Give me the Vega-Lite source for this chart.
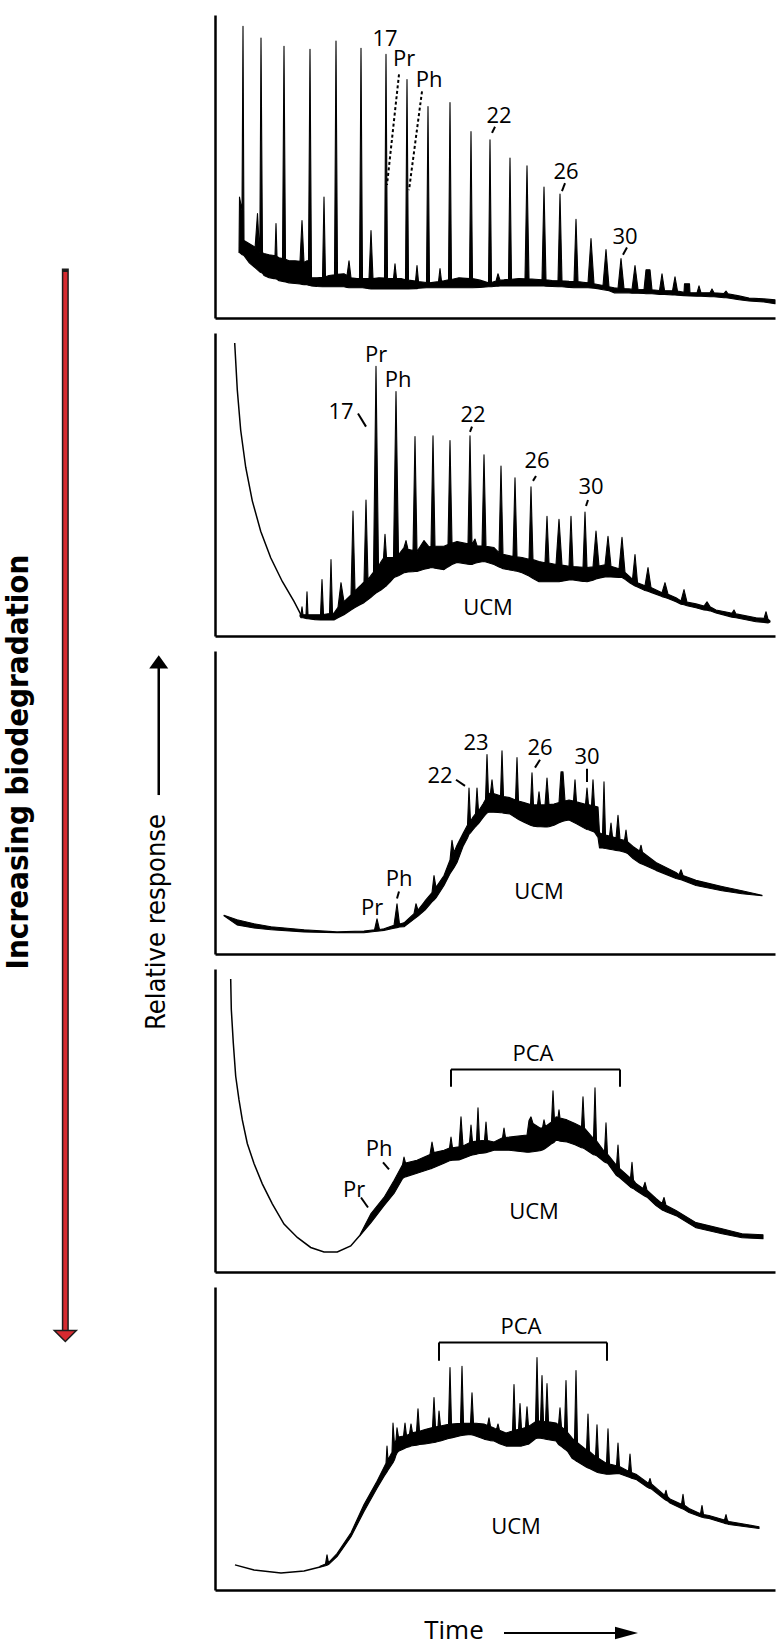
{
"$schema":"https://vega.github.io/schema/vega-lite/v6.json",
"padding":{"left":0,"top":15,"right":0,"bottom":0},
"background":"white",
"config":{"view":{"stroke":null},"axis":{"domainColor":"black","domainWidth":2.5,"ticks":false,"labels":false,"grid":false,"minExtent":0}},
"datasets":{
"redArrowShaft":[{"x":33.5,"y":83.66,"y2":16.4}],
"redArrowHead":[{"x":33.5,"y":16.02}],
"blackArrowShaft":[{"x":81.4,"y":50.41,"y2":58.49}],
"blackArrowHead":[{"x":81.4,"y":58.87}],
"biodegLabel":[{"x":9.8,"y":52.51,"text":"Increasing biodegradation"}],
"responseLabel":[{"x":80.4,"y":42.34,"text":"Relative response"}],
"trace1":[{"time":2.4,"resp":21.6,"lo":21.6},{"time":2.45,"resp":39.9,"lo":21.6},{"time":2.7,"resp":35.5,"lo":20.9},{"time":2.8,"resp":96.3,"lo":20.8},{"time":2.9,"resp":25.6,"lo":20.6},{"time":3.4,"resp":24.6,"lo":18.3},{"time":3.9,"resp":23.6,"lo":16.9},{"time":4.0,"resp":22.8,"lo":16.6},{"time":4.25,"resp":34.5,"lo":15.9},{"time":4.45,"resp":21.8,"lo":15.3},{"time":4.48,"resp":21.6,"lo":15.2},{"time":4.6,"resp":92.4,"lo":15.0},{"time":4.75,"resp":21.5,"lo":14.8},{"time":4.9,"resp":21.3,"lo":14.0},{"time":5.4,"resp":20.9,"lo":13.3},{"time":5.9,"resp":20.6,"lo":13.0},{"time":6.0,"resp":20.5,"lo":13.0},{"time":6.1,"resp":31.2,"lo":12.9},{"time":6.2,"resp":20.3,"lo":12.8},{"time":6.4,"resp":19.9,"lo":12.3},{"time":6.75,"resp":19.6,"lo":12.1},{"time":6.9,"resp":89.7,"lo":12.0},{"time":7.05,"resp":19.4,"lo":11.9},{"time":7.4,"resp":18.9,"lo":11.6},{"time":8.0,"resp":18.9,"lo":11.4},{"time":8.5,"resp":18.7,"lo":11.2},{"time":8.7,"resp":32.2,"lo":11.1},{"time":8.9,"resp":18.3,"lo":11.0},{"time":9.2,"resp":18.9,"lo":11.0},{"time":9.35,"resp":18.9,"lo":10.8},{"time":9.5,"resp":88.7,"lo":10.7},{"time":9.65,"resp":13.3,"lo":10.6},{"time":10.2,"resp":13.3,"lo":10.4},{"time":10.75,"resp":13.4,"lo":10.3},{"time":10.9,"resp":39.9,"lo":10.3},{"time":11.05,"resp":13.6,"lo":10.3},{"time":11.4,"resp":14.0,"lo":10.3},{"time":11.95,"resp":14.3,"lo":10.3},{"time":12.1,"resp":91.4,"lo":10.3},{"time":12.25,"resp":14.4,"lo":10.3},{"time":12.9,"resp":14.6,"lo":10.3},{"time":13.2,"resp":14.0,"lo":10.1},{"time":13.4,"resp":18.9,"lo":10.0},{"time":13.6,"resp":13.3,"lo":10.0},{"time":14.2,"resp":13.0,"lo":10.0},{"time":14.45,"resp":13.0,"lo":10.0},{"time":14.6,"resp":89.0,"lo":10.0},{"time":14.75,"resp":13.0,"lo":10.0},{"time":15.4,"resp":13.0,"lo":9.7},{"time":15.6,"resp":28.9,"lo":9.6},{"time":15.8,"resp":13.0,"lo":9.6},{"time":16.4,"resp":13.3,"lo":9.6},{"time":16.95,"resp":13.2,"lo":9.6},{"time":17.1,"resp":87.0,"lo":9.6},{"time":17.25,"resp":13.1,"lo":9.6},{"time":17.6,"resp":13.0,"lo":9.6},{"time":17.85,"resp":13.0,"lo":9.6},{"time":18.0,"resp":17.9,"lo":9.6},{"time":18.15,"resp":13.0,"lo":9.6},{"time":18.6,"resp":13.0,"lo":9.6},{"time":19.05,"resp":12.6,"lo":9.6},{"time":19.2,"resp":78.7,"lo":9.6},{"time":19.35,"resp":12.5,"lo":9.6},{"time":20.05,"resp":12.2,"lo":9.7},{"time":20.2,"resp":17.3,"lo":9.7},{"time":20.35,"resp":12.0,"lo":9.8},{"time":21.15,"resp":11.7,"lo":10.0},{"time":21.3,"resp":69.8,"lo":10.0},{"time":21.45,"resp":11.6,"lo":10.0},{"time":22.35,"resp":12.0,"lo":10.0},{"time":22.5,"resp":16.3,"lo":10.0},{"time":22.65,"resp":12.2,"lo":10.0},{"time":22.9,"resp":12.3,"lo":10.0},{"time":23.35,"resp":12.6,"lo":10.0},{"time":23.5,"resp":71.1,"lo":10.0},{"time":23.65,"resp":12.7,"lo":10.0},{"time":24.4,"resp":13.3,"lo":10.0},{"time":25.45,"resp":13.0,"lo":10.0},{"time":25.6,"resp":61.5,"lo":10.0},{"time":25.75,"resp":13.0,"lo":10.0},{"time":26.5,"resp":12.5,"lo":10.1},{"time":27.35,"resp":11.6,"lo":10.3},{"time":27.5,"resp":58.8,"lo":10.3},{"time":27.65,"resp":11.7,"lo":10.3},{"time":28.1,"resp":12.2,"lo":10.5},{"time":28.3,"resp":14.6,"lo":10.5},{"time":28.5,"resp":12.5,"lo":10.6},{"time":28.9,"resp":12.6,"lo":10.6},{"time":29.35,"resp":12.8,"lo":10.6},{"time":29.5,"resp":52.8,"lo":10.6},{"time":29.65,"resp":12.8,"lo":10.6},{"time":30.4,"resp":13.0,"lo":10.6},{"time":31.0,"resp":12.9,"lo":10.6},{"time":31.2,"resp":50.2,"lo":10.6},{"time":31.4,"resp":12.9,"lo":10.6},{"time":32.0,"resp":12.8,"lo":10.6},{"time":32.7,"resp":12.6,"lo":10.6},{"time":32.9,"resp":43.2,"lo":10.6},{"time":33.1,"resp":12.6,"lo":10.5},{"time":33.7,"resp":12.4,"lo":10.4},{"time":34.3,"resp":12.3,"lo":10.3},{"time":34.5,"resp":40.9,"lo":10.3},{"time":34.7,"resp":12.3,"lo":10.3},{"time":35.4,"resp":12.1,"lo":10.1},{"time":35.9,"resp":12.0,"lo":10.0},{"time":36.1,"resp":32.6,"lo":10.0},{"time":36.3,"resp":12.0,"lo":10.0},{"time":36.8,"resp":11.8,"lo":10.0},{"time":37.3,"resp":11.6,"lo":10.0},{"time":37.6,"resp":26.2,"lo":9.9},{"time":37.9,"resp":11.3,"lo":9.8},{"time":38.4,"resp":11.0,"lo":9.6},{"time":38.8,"resp":10.7,"lo":9.3},{"time":39.1,"resp":22.6,"lo":9.2},{"time":39.4,"resp":10.3,"lo":9.0},{"time":39.9,"resp":10.0,"lo":8.3},{"time":40.3,"resp":9.8,"lo":8.3},{"time":40.6,"resp":19.6,"lo":8.3},{"time":40.9,"resp":9.7,"lo":8.3},{"time":41.4,"resp":9.6,"lo":8.3},{"time":41.7,"resp":9.5,"lo":8.2},{"time":42.0,"resp":17.3,"lo":8.2},{"time":42.3,"resp":9.5,"lo":8.2},{"time":42.9,"resp":9.4,"lo":8.1},{"time":43.1,"resp":15.9,"lo":8.0},{"time":43.5,"resp":15.9,"lo":8.0},{"time":43.7,"resp":9.3,"lo":8.0},{"time":44.45,"resp":9.1,"lo":7.8},{"time":44.7,"resp":14.6,"lo":7.8},{"time":44.95,"resp":9.1,"lo":7.8},{"time":45.75,"resp":9.0,"lo":7.6},{"time":46.0,"resp":13.6,"lo":7.6},{"time":46.25,"resp":8.9,"lo":7.5},{"time":46.9,"resp":8.5,"lo":7.4},{"time":46.95,"resp":11.3,"lo":7.4},{"time":47.45,"resp":11.3,"lo":7.3},{"time":47.5,"resp":8.3,"lo":7.3},{"time":48.2,"resp":8.3,"lo":7.2},{"time":48.4,"resp":10.6,"lo":7.2},{"time":48.6,"resp":8.3,"lo":7.2},{"time":49.5,"resp":8.3,"lo":7.0},{"time":49.7,"resp":9.6,"lo":7.0},{"time":49.9,"resp":8.3,"lo":7.0},{"time":50.9,"resp":8.1,"lo":6.7},{"time":51.1,"resp":8.9,"lo":6.7},{"time":51.3,"resp":8.0,"lo":6.6},{"time":52.4,"resp":7.3,"lo":6.0},{"time":53.4,"resp":6.6,"lo":5.6},{"time":54.9,"resp":6.3,"lo":5.3},{"time":56.0,"resp":6.0,"lo":4.7}],
"labels1":[{"time":17.0,"resp":92.0,"text":"17"},{"time":18.9,"resp":85.4,"text":"Pr"},{"time":21.4,"resp":78.4,"text":"Ph"},{"time":28.4,"resp":66.8,"text":"22"},{"time":35.1,"resp":48.2,"text":"26"},{"time":41.0,"resp":26.6,"text":"30"}],
"leaders1":[{"time":18.4,"resp":80.4,"time2":17.2,"resp2":43.9,"line":"dashed"},{"time":20.7,"resp":74.8,"time2":19.4,"resp2":42.2,"line":"dashed"},{"time":28.0,"resp":63.1,"time2":27.7,"resp2":61.1,"line":"solid"},{"time":35.0,"resp":44.5,"time2":34.7,"resp2":41.9,"line":"solid"},{"time":41.2,"resp":23.3,"time2":40.8,"resp2":20.9,"line":"solid"}],
"curve2":[{"time":1.97,"resp":96.7},{"time":2.23,"resp":81.2},{"time":2.57,"resp":67.9},{"time":3.07,"resp":55.7},{"time":3.73,"resp":44.6},{"time":4.57,"resp":34.6},{"time":5.57,"resp":25.8},{"time":6.73,"resp":18.0},{"time":7.9,"resp":11.4},{"time":8.6,"resp":7.0}],
"trace2":[{"time":8.5,"resp":7.0,"lo":6.5},{"time":8.6,"resp":7.0,"lo":6.0},{"time":8.7,"resp":9.6,"lo":6.0},{"time":8.8,"resp":7.0,"lo":6.0},{"time":9.1,"resp":7.0,"lo":5.8},{"time":9.2,"resp":14.6,"lo":5.7},{"time":9.3,"resp":7.0,"lo":5.7},{"time":10.0,"resp":7.0,"lo":5.4},{"time":10.55,"resp":7.0,"lo":5.3},{"time":10.7,"resp":18.6,"lo":5.3},{"time":10.85,"resp":7.1,"lo":5.3},{"time":11.45,"resp":7.4,"lo":5.3},{"time":11.6,"resp":25.2,"lo":5.3},{"time":11.75,"resp":7.5,"lo":5.3},{"time":11.9,"resp":7.6,"lo":5.3},{"time":12.3,"resp":9.5,"lo":6.0},{"time":12.6,"resp":17.6,"lo":6.5},{"time":12.9,"resp":11.3,"lo":7.0},{"time":13.6,"resp":13.6,"lo":8.6},{"time":13.8,"resp":41.2,"lo":9.0},{"time":14.0,"resp":14.9,"lo":9.4},{"time":14.5,"resp":16.5,"lo":10.3},{"time":14.9,"resp":17.9,"lo":11.0},{"time":15.1,"resp":44.9,"lo":11.5},{"time":15.3,"resp":18.6,"lo":12.0},{"time":15.6,"resp":20.0,"lo":12.8},{"time":15.85,"resp":21.1,"lo":13.5},{"time":16.1,"resp":89.0,"lo":14.2},{"time":16.35,"resp":23.0,"lo":14.7},{"time":16.6,"resp":24.5,"lo":15.2},{"time":16.85,"resp":25.7,"lo":15.8},{"time":17.0,"resp":33.6,"lo":16.2},{"time":17.15,"resp":25.9,"lo":16.6},{"time":17.5,"resp":25.9,"lo":17.8},{"time":17.85,"resp":25.9,"lo":19.1},{"time":18.1,"resp":80.7,"lo":19.6},{"time":18.35,"resp":26.8,"lo":19.9},{"time":18.9,"resp":29.2,"lo":20.9},{"time":19.1,"resp":31.5,"lo":21.0},{"time":19.3,"resp":28.6,"lo":21.1},{"time":19.8,"resp":28.2,"lo":21.2},{"time":20.0,"resp":65.8,"lo":21.3},{"time":20.2,"resp":27.9,"lo":21.3},{"time":20.9,"resp":31.5,"lo":22.0},{"time":21.4,"resp":29.4,"lo":22.4},{"time":21.6,"resp":29.6,"lo":22.6},{"time":21.8,"resp":66.1,"lo":22.5},{"time":22.0,"resp":29.6,"lo":22.4},{"time":22.9,"resp":29.6,"lo":21.9},{"time":23.3,"resp":30.2,"lo":22.8},{"time":23.5,"resp":64.5,"lo":23.2},{"time":23.7,"resp":30.6,"lo":23.6},{"time":24.2,"resp":31.2,"lo":24.3},{"time":25.3,"resp":30.4,"lo":23.7},{"time":25.5,"resp":66.1,"lo":23.6},{"time":25.7,"resp":30.2,"lo":23.6},{"time":26.0,"resp":32.0,"lo":24.0},{"time":26.2,"resp":29.8,"lo":24.2},{"time":26.7,"resp":29.7,"lo":24.5},{"time":26.9,"resp":59.8,"lo":24.6},{"time":27.1,"resp":29.6,"lo":24.4},{"time":27.9,"resp":29.2,"lo":23.6},{"time":28.4,"resp":27.5,"lo":22.8},{"time":28.6,"resp":56.1,"lo":22.5},{"time":28.8,"resp":27.0,"lo":22.2},{"time":29.8,"resp":26.2,"lo":21.6},{"time":30.0,"resp":52.2,"lo":21.5},{"time":30.2,"resp":26.1,"lo":21.4},{"time":30.7,"resp":25.9,"lo":20.9},{"time":31.4,"resp":25.3,"lo":19.8},{"time":31.6,"resp":49.2,"lo":19.4},{"time":31.8,"resp":25.2,"lo":19.0},{"time":32.4,"resp":24.6,"lo":17.9},{"time":33.0,"resp":24.2,"lo":17.9},{"time":33.2,"resp":39.5,"lo":17.9},{"time":33.4,"resp":24.1,"lo":17.9},{"time":34.1,"resp":23.6,"lo":17.9},{"time":34.4,"resp":38.5,"lo":17.9},{"time":34.7,"resp":23.4,"lo":18.1},{"time":35.4,"resp":23.0,"lo":18.5},{"time":35.6,"resp":39.5,"lo":18.6},{"time":35.8,"resp":22.9,"lo":18.5},{"time":36.8,"resp":22.7,"lo":18.0},{"time":37.0,"resp":40.9,"lo":18.0},{"time":37.2,"resp":22.6,"lo":17.9},{"time":37.8,"resp":22.8,"lo":18.4},{"time":38.1,"resp":34.6,"lo":18.8},{"time":38.4,"resp":23.1,"lo":19.1},{"time":39.0,"resp":23.5,"lo":19.5},{"time":39.3,"resp":32.9,"lo":19.6},{"time":39.6,"resp":23.0,"lo":19.5},{"time":40.4,"resp":22.2,"lo":19.3},{"time":40.7,"resp":32.6,"lo":19.3},{"time":41.0,"resp":21.0,"lo":18.7},{"time":41.5,"resp":19.5,"lo":17.5},{"time":41.75,"resp":18.7,"lo":17.0},{"time":42.0,"resp":26.9,"lo":16.5},{"time":42.25,"resp":17.6,"lo":16.2},{"time":43.0,"resp":16.6,"lo":15.0},{"time":43.3,"resp":22.6,"lo":14.8},{"time":43.6,"resp":16.0,"lo":14.4},{"time":44.7,"resp":14.3,"lo":13.0},{"time":45.0,"resp":17.6,"lo":12.7},{"time":45.3,"resp":13.8,"lo":12.4},{"time":46.1,"resp":12.6,"lo":11.3},{"time":46.6,"resp":11.6,"lo":10.5},{"time":46.9,"resp":15.3,"lo":10.3},{"time":47.2,"resp":11.2,"lo":10.0},{"time":48.1,"resp":10.6,"lo":9.3},{"time":48.9,"resp":9.9,"lo":8.6},{"time":49.2,"resp":11.3,"lo":8.5},{"time":49.5,"resp":9.7,"lo":8.3},{"time":50.1,"resp":8.6,"lo":7.6},{"time":51.5,"resp":7.7,"lo":6.4},{"time":51.7,"resp":7.6,"lo":6.2},{"time":51.9,"resp":8.6,"lo":6.1},{"time":52.1,"resp":7.3,"lo":6.0},{"time":54.1,"resp":6.0,"lo":4.7},{"time":54.9,"resp":5.8,"lo":4.5},{"time":55.1,"resp":8.0,"lo":4.4},{"time":55.3,"resp":5.6,"lo":4.3},{"time":55.5,"resp":5.0,"lo":4.6}],
"labels2":[{"time":16.1,"resp":92.7,"text":"Pr"},{"time":18.3,"resp":84.4,"text":"Ph"},{"time":12.6,"resp":73.8,"text":"17"},{"time":25.8,"resp":73.1,"text":"22"},{"time":32.2,"resp":57.8,"text":"26"},{"time":37.6,"resp":49.2,"text":"30"},{"time":27.3,"resp":9.3,"text":"UCM"}],
"leaders2":[{"time":14.3,"resp":73.4,"time2":15.1,"resp2":69.1,"line":"solid"},{"time":25.7,"resp":69.1,"time2":25.5,"resp2":67.4,"line":"solid"},{"time":32.1,"resp":52.8,"time2":31.8,"resp2":51.2,"line":"solid"},{"time":37.3,"resp":44.9,"time2":37.1,"resp2":42.9,"line":"solid"}],
"trace3":[{"time":0.9,"resp":12.8,"lo":12.6},{"time":2.2,"resp":11.3,"lo":9.6},{"time":3.9,"resp":10.0,"lo":8.6},{"time":5.6,"resp":9.0,"lo":8.0},{"time":8.9,"resp":8.0,"lo":7.3},{"time":12.2,"resp":7.3,"lo":7.0},{"time":14.9,"resp":7.6,"lo":7.0},{"time":15.95,"resp":8.0,"lo":7.4},{"time":16.2,"resp":11.6,"lo":7.5},{"time":16.45,"resp":8.1,"lo":7.6},{"time":16.9,"resp":8.3,"lo":7.8},{"time":17.9,"resp":9.5,"lo":8.5},{"time":18.2,"resp":16.6,"lo":8.7},{"time":18.45,"resp":9.9,"lo":8.9},{"time":18.9,"resp":10.3,"lo":9.0},{"time":19.9,"resp":13.3,"lo":11.5},{"time":20.1,"resp":16.6,"lo":12.0},{"time":20.3,"resp":14.5,"lo":12.5},{"time":21.0,"resp":17.5,"lo":14.5},{"time":21.7,"resp":20.3,"lo":17.2},{"time":21.9,"resp":25.9,"lo":17.8},{"time":22.1,"resp":22.0,"lo":18.5},{"time":22.9,"resp":25.9,"lo":22.6},{"time":23.5,"resp":31.0,"lo":26.5},{"time":23.7,"resp":37.5,"lo":27.5},{"time":23.9,"resp":33.5,"lo":28.5},{"time":24.2,"resp":35.9,"lo":30.2},{"time":24.8,"resp":39.8,"lo":35.5},{"time":25.25,"resp":42.6,"lo":38.3},{"time":25.4,"resp":54.8,"lo":39.5},{"time":25.55,"resp":43.8,"lo":40.0},{"time":25.8,"resp":45.2,"lo":41.0},{"time":26.05,"resp":46.3,"lo":42.0},{"time":26.2,"resp":54.8,"lo":42.5},{"time":26.35,"resp":47.2,"lo":43.0},{"time":26.8,"resp":49.5,"lo":45.0},{"time":27.05,"resp":51.0,"lo":46.0},{"time":27.2,"resp":65.8,"lo":46.5},{"time":27.35,"resp":52.5,"lo":46.8},{"time":27.55,"resp":53.3,"lo":46.8},{"time":27.7,"resp":57.5,"lo":46.8},{"time":27.85,"resp":53.0,"lo":46.8},{"time":28.3,"resp":52.5,"lo":46.7},{"time":28.55,"resp":52.2,"lo":46.6},{"time":28.7,"resp":67.1,"lo":46.6},{"time":28.85,"resp":52.0,"lo":46.5},{"time":29.5,"resp":51.6,"lo":46.2},{"time":30.05,"resp":50.8,"lo":45.0},{"time":30.2,"resp":64.8,"lo":44.7},{"time":30.35,"resp":50.5,"lo":44.4},{"time":30.9,"resp":50.0,"lo":43.5},{"time":31.55,"resp":49.3,"lo":42.5},{"time":31.7,"resp":59.8,"lo":42.3},{"time":31.85,"resp":49.2,"lo":42.2},{"time":32.25,"resp":49.2,"lo":42.0},{"time":32.4,"resp":53.5,"lo":42.0},{"time":32.55,"resp":49.2,"lo":42.0},{"time":33.0,"resp":49.2,"lo":41.9},{"time":33.2,"resp":58.1,"lo":41.9},{"time":33.4,"resp":49.3,"lo":42.0},{"time":33.9,"resp":49.5,"lo":42.5},{"time":34.4,"resp":50.0,"lo":43.3},{"time":34.6,"resp":60.1,"lo":43.6},{"time":34.8,"resp":60.1,"lo":43.8},{"time":35.0,"resp":50.5,"lo":44.0},{"time":35.4,"resp":50.8,"lo":44.2},{"time":35.85,"resp":50.5,"lo":43.5},{"time":36.0,"resp":57.5,"lo":43.2},{"time":36.15,"resp":50.2,"lo":43.0},{"time":37.05,"resp":49.4,"lo":41.3},{"time":37.2,"resp":54.8,"lo":41.1},{"time":37.35,"resp":49.3,"lo":41.0},{"time":37.65,"resp":49.0,"lo":40.6},{"time":37.8,"resp":57.5,"lo":40.4},{"time":37.95,"resp":48.8,"lo":40.2},{"time":38.3,"resp":48.5,"lo":38.5},{"time":38.45,"resp":40.0,"lo":35.0},{"time":38.75,"resp":39.5,"lo":35.0},{"time":38.9,"resp":56.8,"lo":34.9},{"time":39.05,"resp":39.3,"lo":34.8},{"time":39.45,"resp":38.9,"lo":34.6},{"time":39.6,"resp":43.2,"lo":34.5},{"time":39.75,"resp":38.7,"lo":34.4},{"time":40.1,"resp":38.3,"lo":34.2},{"time":40.3,"resp":45.8,"lo":34.1},{"time":40.5,"resp":37.9,"lo":34.0},{"time":40.95,"resp":37.5,"lo":33.6},{"time":41.1,"resp":40.9,"lo":33.4},{"time":41.25,"resp":37.1,"lo":33.2},{"time":41.8,"resp":35.5,"lo":31.5},{"time":42.45,"resp":34.0,"lo":30.0},{"time":42.6,"resp":35.9,"lo":29.8},{"time":42.75,"resp":33.6,"lo":29.6},{"time":44.1,"resp":30.2,"lo":27.6},{"time":46.1,"resp":26.9,"lo":24.9},{"time":46.4,"resp":26.2,"lo":24.7},{"time":46.6,"resp":27.8,"lo":24.5},{"time":46.8,"resp":25.9,"lo":24.3},{"time":48.1,"resp":24.3,"lo":22.6},{"time":50.7,"resp":22.3,"lo":20.9},{"time":52.7,"resp":20.9,"lo":19.9},{"time":54.7,"resp":19.4,"lo":19.2}],
"labels3":[{"time":15.7,"resp":15.3,"text":"Pr"},{"time":18.4,"resp":24.9,"text":"Ph"},{"time":22.5,"resp":58.8,"text":"22"},{"time":26.1,"resp":69.8,"text":"23"},{"time":32.5,"resp":68.1,"text":"26"},{"time":37.2,"resp":65.1,"text":"30"},{"time":32.4,"resp":20.3,"text":"UCM"}],
"leaders3":[{"time":18.4,"resp":20.6,"time2":18.2,"resp2":18.3,"line":"solid"},{"time":24.1,"resp":57.5,"time2":25.0,"resp2":55.5,"line":"solid"},{"time":32.5,"resp":64.1,"time2":32.0,"resp2":61.5,"line":"solid"},{"time":37.2,"resp":61.1,"time2":37.2,"resp2":56.8,"line":"solid"}],
"curve4":[{"time":1.57,"resp":96.7},{"time":1.63,"resp":86.7},{"time":1.83,"resp":75.6},{"time":2.07,"resp":64.6},{"time":2.4,"resp":56.8},{"time":2.73,"resp":50.2},{"time":3.23,"resp":42.4},{"time":3.9,"resp":35.8},{"time":4.73,"resp":29.1},{"time":5.73,"resp":22.5},{"time":6.9,"resp":15.8},{"time":8.23,"resp":11.4},{"time":9.57,"resp":8.1},{"time":10.9,"resp":6.6},{"time":12.23,"resp":6.6},{"time":13.57,"resp":8.6},{"time":14.5,"resp":12.1}],
"trace4":[{"time":14.5,"resp":12.3,"lo":12.0},{"time":15.6,"resp":19.3,"lo":16.3},{"time":16.9,"resp":24.6,"lo":21.9},{"time":17.9,"resp":30.2,"lo":25.9},{"time":18.75,"resp":35.4,"lo":30.8},{"time":18.9,"resp":37.9,"lo":31.2},{"time":19.05,"resp":36.0,"lo":31.4},{"time":20.2,"resp":36.9,"lo":32.6},{"time":21.5,"resp":38.8,"lo":34.0},{"time":21.7,"resp":42.9,"lo":34.2},{"time":21.9,"resp":39.4,"lo":34.5},{"time":22.9,"resp":40.2,"lo":35.9},{"time":23.45,"resp":40.9,"lo":36.7},{"time":23.6,"resp":44.5,"lo":36.8},{"time":23.75,"resp":41.0,"lo":36.9},{"time":24.4,"resp":41.3,"lo":37.0},{"time":24.6,"resp":51.2,"lo":37.2},{"time":24.8,"resp":41.6,"lo":37.5},{"time":25.45,"resp":42.7,"lo":38.3},{"time":25.6,"resp":48.5,"lo":38.5},{"time":25.75,"resp":43.0,"lo":38.6},{"time":26.15,"resp":43.2,"lo":38.9},{"time":26.3,"resp":54.2,"lo":39.0},{"time":26.45,"resp":43.3,"lo":39.1},{"time":26.95,"resp":43.5,"lo":39.3},{"time":27.1,"resp":49.5,"lo":39.4},{"time":27.25,"resp":43.4,"lo":39.5},{"time":27.9,"resp":42.9,"lo":40.2},{"time":28.75,"resp":44.3,"lo":40.2},{"time":28.9,"resp":47.5,"lo":40.2},{"time":29.05,"resp":44.4,"lo":40.2},{"time":29.4,"resp":44.5,"lo":40.2},{"time":31.2,"resp":45.2,"lo":39.5},{"time":31.4,"resp":50.0,"lo":39.5},{"time":31.6,"resp":51.2,"lo":39.6},{"time":31.8,"resp":49.0,"lo":39.7},{"time":32.5,"resp":47.5,"lo":40.0},{"time":32.75,"resp":47.6,"lo":40.3},{"time":32.9,"resp":50.2,"lo":40.5},{"time":33.05,"resp":48.0,"lo":40.8},{"time":33.65,"resp":49.5,"lo":42.3},{"time":33.8,"resp":59.8,"lo":42.6},{"time":33.95,"resp":50.0,"lo":42.9},{"time":34.1,"resp":51.2,"lo":43.5},{"time":34.3,"resp":51.0,"lo":43.4},{"time":34.4,"resp":53.5,"lo":43.3},{"time":34.5,"resp":50.8,"lo":43.2},{"time":35.2,"resp":50.2,"lo":42.9},{"time":36.0,"resp":49.0,"lo":42.0},{"time":36.65,"resp":47.9,"lo":41.0},{"time":36.8,"resp":57.8,"lo":40.9},{"time":36.95,"resp":47.5,"lo":40.7},{"time":37.85,"resp":44.0,"lo":38.7},{"time":38.0,"resp":60.8,"lo":38.6},{"time":38.15,"resp":43.3,"lo":38.4},{"time":38.95,"resp":39.7,"lo":36.3},{"time":39.1,"resp":49.2,"lo":36.1},{"time":39.25,"resp":38.9,"lo":35.9},{"time":40.15,"resp":35.2,"lo":31.8},{"time":40.3,"resp":41.9,"lo":31.5},{"time":40.45,"resp":34.2,"lo":31.2},{"time":41.55,"resp":31.0,"lo":28.0},{"time":41.7,"resp":36.2,"lo":27.7},{"time":41.85,"resp":30.3,"lo":27.5},{"time":42.1,"resp":29.2,"lo":26.9},{"time":42.8,"resp":27.6,"lo":25.4},{"time":43.0,"resp":29.6,"lo":25.0},{"time":43.2,"resp":27.0,"lo":24.7},{"time":44.1,"resp":24.3,"lo":21.9},{"time":44.7,"resp":22.6,"lo":20.5},{"time":44.9,"resp":24.6,"lo":20.2},{"time":45.1,"resp":22.0,"lo":19.9},{"time":46.1,"resp":20.3,"lo":18.6},{"time":48.1,"resp":16.3,"lo":14.6},{"time":50.7,"resp":14.3,"lo":12.6},{"time":52.7,"resp":12.6,"lo":11.3},{"time":54.8,"resp":12.3,"lo":11.0}],
"labels4":[{"time":31.8,"resp":72.1,"text":"PCA"},{"time":31.9,"resp":19.9,"text":"UCM"},{"time":16.4,"resp":40.5,"text":"Ph"},{"time":13.9,"resp":27.2,"text":"Pr"}],
"leaders4":[{"time":16.8,"resp":36.2,"time2":17.4,"resp2":33.9,"line":"solid"},{"time":14.6,"resp":24.6,"time2":15.3,"resp2":21.3,"line":"solid"},{"time":23.6,"resp":66.8,"time2":40.5,"resp2":66.8,"line":"solid"},{"time":23.6,"resp":66.8,"time2":23.6,"resp2":61.1,"line":"solid"},{"time":40.5,"resp":66.8,"time2":40.5,"resp2":61.1,"line":"solid"}],
"curve5":[{"time":2.0,"resp":8.3},{"time":3.9,"resp":6.6},{"time":6.6,"resp":5.6},{"time":8.9,"resp":6.3},{"time":10.5,"resp":7.6}],
"trace5":[{"time":10.5,"resp":7.8,"lo":7.5},{"time":11.05,"resp":8.6,"lo":8.0},{"time":11.2,"resp":11.6,"lo":8.2},{"time":11.35,"resp":9.0,"lo":8.4},{"time":12.2,"resp":12.0,"lo":11.0},{"time":13.6,"resp":18.9,"lo":17.6},{"time":14.9,"resp":28.2,"lo":25.9},{"time":16.2,"resp":35.9,"lo":33.6},{"time":16.9,"resp":40.5,"lo":37.5},{"time":17.1,"resp":41.8,"lo":38.5},{"time":17.2,"resp":47.5,"lo":39.0},{"time":17.3,"resp":43.0,"lo":39.5},{"time":17.7,"resp":45.5,"lo":41.5},{"time":17.8,"resp":55.1,"lo":42.0},{"time":17.95,"resp":48.0,"lo":43.0},{"time":18.1,"resp":49.5,"lo":44.5},{"time":18.2,"resp":53.5,"lo":45.2},{"time":18.35,"resp":50.5,"lo":45.8},{"time":18.85,"resp":50.8,"lo":46.5},{"time":19.0,"resp":55.1,"lo":46.8},{"time":19.15,"resp":51.0,"lo":47.0},{"time":19.45,"resp":51.5,"lo":47.3},{"time":19.6,"resp":54.8,"lo":47.5},{"time":19.75,"resp":51.9,"lo":47.6},{"time":20.15,"resp":52.2,"lo":47.8},{"time":20.3,"resp":59.8,"lo":47.9},{"time":20.45,"resp":52.4,"lo":48.0},{"time":21.0,"resp":53.0,"lo":48.2},{"time":21.75,"resp":53.6,"lo":48.6},{"time":21.9,"resp":63.5,"lo":48.7},{"time":22.05,"resp":53.8,"lo":48.8},{"time":22.3,"resp":54.0,"lo":49.0},{"time":22.4,"resp":59.1,"lo":49.1},{"time":22.55,"resp":54.1,"lo":49.2},{"time":23.35,"resp":54.7,"lo":50.0},{"time":23.5,"resp":73.4,"lo":50.1},{"time":23.65,"resp":54.8,"lo":50.2},{"time":24.55,"resp":55.0,"lo":50.9},{"time":24.7,"resp":73.8,"lo":51.0},{"time":24.85,"resp":55.0,"lo":51.1},{"time":25.55,"resp":55.1,"lo":51.3},{"time":25.7,"resp":65.1,"lo":51.2},{"time":25.85,"resp":55.1,"lo":51.1},{"time":26.9,"resp":54.8,"lo":49.8},{"time":27.25,"resp":54.3,"lo":49.5},{"time":27.4,"resp":56.8,"lo":49.4},{"time":27.55,"resp":54.0,"lo":49.3},{"time":27.9,"resp":53.5,"lo":49.2},{"time":28.15,"resp":53.0,"lo":48.8},{"time":28.3,"resp":54.8,"lo":48.5},{"time":28.45,"resp":52.7,"lo":48.3},{"time":29.1,"resp":51.8,"lo":47.5},{"time":29.75,"resp":52.5,"lo":47.5},{"time":29.9,"resp":67.8,"lo":47.5},{"time":30.05,"resp":52.8,"lo":47.5},{"time":30.35,"resp":53.0,"lo":47.5},{"time":30.5,"resp":61.5,"lo":47.5},{"time":30.65,"resp":53.2,"lo":47.5},{"time":31.05,"resp":53.6,"lo":47.9},{"time":31.2,"resp":60.5,"lo":48.0},{"time":31.35,"resp":54.0,"lo":48.1},{"time":32.05,"resp":55.5,"lo":49.9},{"time":32.2,"resp":76.7,"lo":50.1},{"time":32.35,"resp":55.8,"lo":50.2},{"time":32.55,"resp":55.8,"lo":50.1},{"time":32.7,"resp":70.8,"lo":50.0},{"time":32.85,"resp":55.7,"lo":49.9},{"time":33.05,"resp":55.6,"lo":49.8},{"time":33.2,"resp":68.1,"lo":49.7},{"time":33.35,"resp":55.5,"lo":49.6},{"time":34.1,"resp":55.1,"lo":49.2},{"time":34.35,"resp":54.5,"lo":48.0},{"time":34.5,"resp":60.1,"lo":47.7},{"time":34.65,"resp":53.8,"lo":47.3},{"time":34.95,"resp":53.0,"lo":46.5},{"time":35.1,"resp":69.1,"lo":46.2},{"time":35.25,"resp":52.0,"lo":45.8},{"time":35.7,"resp":50.2,"lo":43.5},{"time":35.95,"resp":49.3,"lo":43.0},{"time":36.1,"resp":72.4,"lo":42.6},{"time":36.25,"resp":48.6,"lo":42.3},{"time":37.15,"resp":46.2,"lo":40.5},{"time":37.3,"resp":58.1,"lo":40.3},{"time":37.45,"resp":45.7,"lo":40.1},{"time":38.05,"resp":44.0,"lo":39.1},{"time":38.2,"resp":54.5,"lo":38.9},{"time":38.35,"resp":43.5,"lo":38.7},{"time":39.15,"resp":41.8,"lo":38.2},{"time":39.3,"resp":53.2,"lo":38.2},{"time":39.45,"resp":41.6,"lo":38.2},{"time":40.15,"resp":41.0,"lo":38.4},{"time":40.3,"resp":48.5,"lo":38.4},{"time":40.45,"resp":40.8,"lo":38.4},{"time":41.35,"resp":39.2,"lo":37.3},{"time":41.5,"resp":44.9,"lo":37.1},{"time":41.65,"resp":38.8,"lo":36.9},{"time":42.1,"resp":38.2,"lo":36.5},{"time":43.2,"resp":35.6,"lo":34.0},{"time":43.35,"resp":35.3,"lo":33.7},{"time":43.5,"resp":36.8,"lo":33.5},{"time":43.65,"resp":35.0,"lo":33.3},{"time":44.95,"resp":31.3,"lo":29.9},{"time":45.1,"resp":32.9,"lo":29.6},{"time":45.25,"resp":30.9,"lo":29.4},{"time":45.5,"resp":30.0,"lo":28.7},{"time":46.65,"resp":28.3,"lo":26.9},{"time":46.8,"resp":31.6,"lo":26.7},{"time":46.95,"resp":28.0,"lo":26.5},{"time":47.4,"resp":26.9,"lo":25.6},{"time":48.55,"resp":25.2,"lo":24.2},{"time":48.7,"resp":27.9,"lo":24.0},{"time":48.85,"resp":24.9,"lo":23.9},{"time":49.4,"resp":24.6,"lo":23.6},{"time":50.95,"resp":23.1,"lo":22.0},{"time":51.1,"resp":24.9,"lo":21.9},{"time":51.25,"resp":22.9,"lo":21.8},{"time":51.4,"resp":22.6,"lo":21.6},{"time":54.4,"resp":20.9,"lo":20.3}],
"labels5":[{"time":30.6,"resp":86.7,"text":"PCA"},{"time":30.1,"resp":20.9,"text":"UCM"}],
"leaders5":[{"time":22.4,"resp":81.7,"time2":39.2,"resp2":81.7,"line":"solid"},{"time":22.4,"resp":81.7,"time2":22.4,"resp2":75.7,"line":"solid"},{"time":39.2,"resp":81.7,"time2":39.2,"resp2":75.7,"line":"solid"}],
"timeArrow":[{"time":28.9,"resp":12,"time2":40.3}],
"timeHead":[{"time":41.15,"resp":12}],
"timeLabel":[{"time":23.9,"resp":6,"text":"Time"}]
},
"spacing":20,
"hconcat":[
{"width":195,"height":1573,
 "encoding":{"x":{"field":"x","type":"quantitative","scale":{"domain":[0,100],"nice":false},"axis":null},"y":{"field":"y","type":"quantitative","scale":{"domain":[0,100],"nice":false},"axis":null}},
 "layer":[
  {"data":{"name":"redArrowShaft"},"mark":{"type":"rule","color":"#1c1c1c","strokeWidth":7,"strokeCap":"square"},"encoding":{"y2":{"field":"y2"}}},
  {"data":{"name":"redArrowShaft"},"mark":{"type":"rule","color":"#d62a30","strokeWidth":4,"strokeCap":"butt"},"encoding":{"y2":{"field":"y2"}}},
  {"data":{"name":"redArrowHead"},"mark":{"type":"point","shape":"M-1,-0.5L1,-0.5L0,0.5Z","size":484,"filled":true,"fill":"#d62a30","stroke":"#1c1c1c","strokeWidth":1.5,"opacity":1}},
  {"data":{"name":"blackArrowShaft"},"mark":{"type":"rule","color":"black","strokeWidth":2.5},"encoding":{"y2":{"field":"y2"}}},
  {"data":{"name":"blackArrowHead"},"mark":{"type":"point","shape":"M-1,0.7L1,0.7L0,-0.7Z","size":361,"filled":true,"color":"black","opacity":1}},
  {"data":{"name":"biodegLabel"},"mark":{"type":"text","angle":270,"font":"Liberation Sans Narrow, DejaVu Sans Condensed, sans-serif","fontWeight":"bold","fontSize":31,"align":"center","baseline":"middle","color":"black"},"encoding":{"text":{"field":"text"}}},
  {"data":{"name":"responseLabel"},"mark":{"type":"text","angle":270,"font":"Liberation Sans Narrow, DejaVu Sans Condensed, sans-serif","fontSize":27,"align":"center","baseline":"middle","color":"black"},"encoding":{"text":{"field":"text"}}}
 ]},
{"spacing":15,"vconcat":[
 {"width":560,"height":303,
  "encoding":{"x":{"field":"time","type":"quantitative","title":null,"scale":{"domain":[0,56],"nice":false,"zero":false}},"y":{"field":"resp","type":"quantitative","title":null,"scale":{"domain":[0,100],"nice":false}}},
  "layer":[
   {"data":{"name":"trace1"},"mark":{"type":"area","color":"black","stroke":"black","strokeWidth":1.1,"strokeJoin":"round"},"encoding":{"y2":{"field":"lo"}}},
   {"data":{"name":"leaders1"},"mark":{"type":"rule","color":"black","strokeWidth":2},"encoding":{"x2":{"field":"time2"},"y2":{"field":"resp2"},"strokeDash":{"field":"line","type":"nominal","scale":{"domain":["solid","dashed"],"range":[[1,0],[3,2.5]]},"legend":null}}},
   {"data":{"name":"labels1"},"mark":{"type":"text","font":"Open Sans","fontSize":22,"align":"center","baseline":"middle","color":"black"},"encoding":{"text":{"field":"text"}}}
  ]},
 {"width":560,"height":303,
  "encoding":{"x":{"field":"time","type":"quantitative","title":null,"scale":{"domain":[0,56],"nice":false,"zero":false}},"y":{"field":"resp","type":"quantitative","title":null,"scale":{"domain":[0,100],"nice":false}}},
  "layer":[
   {"data":{"name":"curve2"},"mark":{"type":"line","color":"black","strokeWidth":1.5}},
   {"data":{"name":"trace2"},"mark":{"type":"area","color":"black","stroke":"black","strokeWidth":1.1,"strokeJoin":"round"},"encoding":{"y2":{"field":"lo"}}},
   {"data":{"name":"leaders2"},"mark":{"type":"rule","color":"black","strokeWidth":2},"encoding":{"x2":{"field":"time2"},"y2":{"field":"resp2"}}},
   {"data":{"name":"labels2"},"mark":{"type":"text","font":"Open Sans","fontSize":22,"align":"center","baseline":"middle","color":"black"},"encoding":{"text":{"field":"text"}}}
  ]},
 {"width":560,"height":303,
  "encoding":{"x":{"field":"time","type":"quantitative","title":null,"scale":{"domain":[0,56],"nice":false,"zero":false}},"y":{"field":"resp","type":"quantitative","title":null,"scale":{"domain":[0,100],"nice":false}}},
  "layer":[
   {"data":{"name":"trace3"},"mark":{"type":"area","color":"black","stroke":"black","strokeWidth":1.1,"strokeJoin":"round"},"encoding":{"y2":{"field":"lo"}}},
   {"data":{"name":"leaders3"},"mark":{"type":"rule","color":"black","strokeWidth":2},"encoding":{"x2":{"field":"time2"},"y2":{"field":"resp2"}}},
   {"data":{"name":"labels3"},"mark":{"type":"text","font":"Open Sans","fontSize":22,"align":"center","baseline":"middle","color":"black"},"encoding":{"text":{"field":"text"}}}
  ]},
 {"width":560,"height":303,
  "encoding":{"x":{"field":"time","type":"quantitative","title":null,"scale":{"domain":[0,56],"nice":false,"zero":false}},"y":{"field":"resp","type":"quantitative","title":null,"scale":{"domain":[0,100],"nice":false}}},
  "layer":[
   {"data":{"name":"curve4"},"mark":{"type":"line","color":"black","strokeWidth":1.5}},
   {"data":{"name":"trace4"},"mark":{"type":"area","color":"black","stroke":"black","strokeWidth":1.1,"strokeJoin":"round"},"encoding":{"y2":{"field":"lo"}}},
   {"data":{"name":"leaders4"},"mark":{"type":"rule","color":"black","strokeWidth":2},"encoding":{"x2":{"field":"time2"},"y2":{"field":"resp2"}}},
   {"data":{"name":"labels4"},"mark":{"type":"text","font":"Open Sans","fontSize":22,"align":"center","baseline":"middle","color":"black"},"encoding":{"text":{"field":"text"}}}
  ]},
 {"width":560,"height":303,
  "encoding":{"x":{"field":"time","type":"quantitative","title":null,"scale":{"domain":[0,56],"nice":false,"zero":false}},"y":{"field":"resp","type":"quantitative","title":null,"scale":{"domain":[0,100],"nice":false}}},
  "layer":[
   {"data":{"name":"curve5"},"mark":{"type":"line","color":"black","strokeWidth":1.5}},
   {"data":{"name":"trace5"},"mark":{"type":"area","color":"black","stroke":"black","strokeWidth":1.1,"strokeJoin":"round"},"encoding":{"y2":{"field":"lo"}}},
   {"data":{"name":"leaders5"},"mark":{"type":"rule","color":"black","strokeWidth":2},"encoding":{"x2":{"field":"time2"},"y2":{"field":"resp2"}}},
   {"data":{"name":"labels5"},"mark":{"type":"text","font":"Open Sans","fontSize":22,"align":"center","baseline":"middle","color":"black"},"encoding":{"text":{"field":"text"}}}
  ]},
 {"width":560,"height":40,
  "encoding":{"x":{"field":"time","type":"quantitative","scale":{"domain":[0,56],"nice":false,"zero":false},"axis":null},"y":{"field":"resp","type":"quantitative","scale":{"domain":[0,40],"nice":false},"axis":null}},
  "layer":[
   {"data":{"name":"timeArrow"},"mark":{"type":"rule","color":"black","strokeWidth":2},"encoding":{"x2":{"field":"time2"}}},
   {"data":{"name":"timeHead"},"mark":{"type":"point","shape":"M-1,-0.55L1,0L-1,0.55Z","size":529,"filled":true,"color":"black","opacity":1}},
   {"data":{"name":"timeLabel"},"mark":{"type":"text","font":"Open Sans","fontSize":26,"align":"center","baseline":"alphabetic","color":"black"},"encoding":{"text":{"field":"text"}}}
  ]}
]}
]
}
